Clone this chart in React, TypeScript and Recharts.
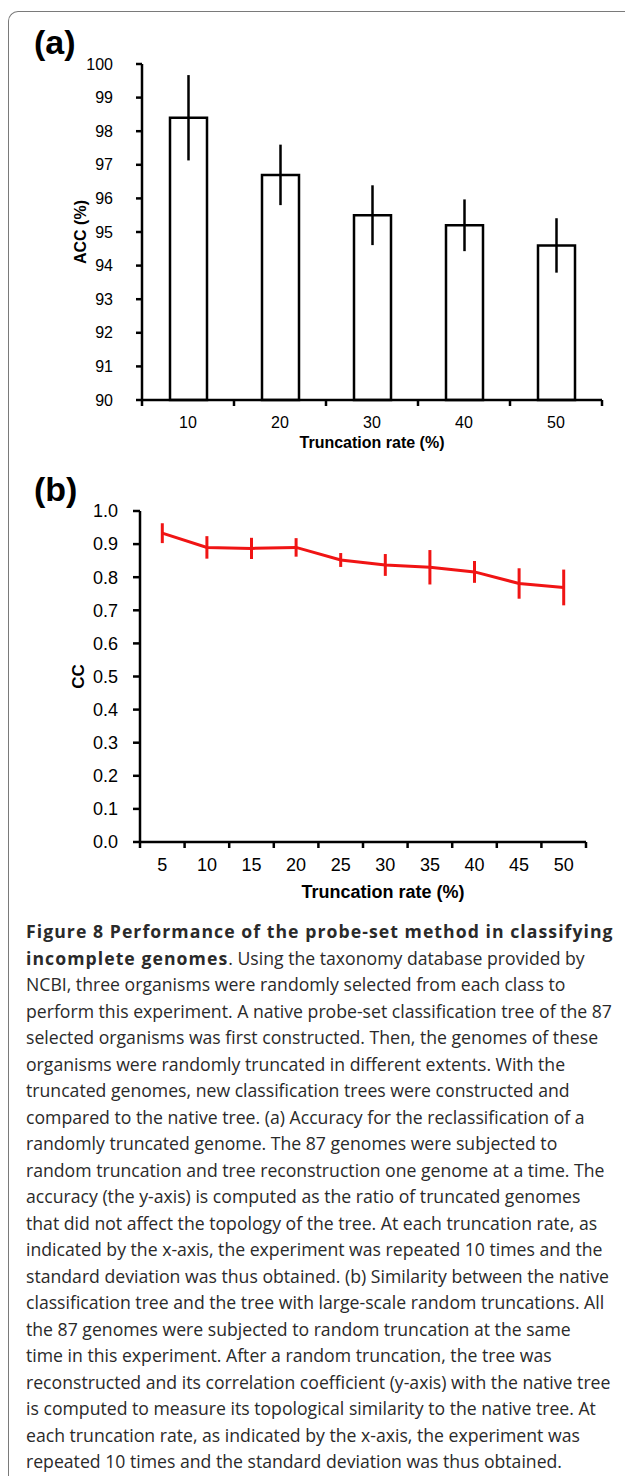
import React from "react";
import {
  BarChart,
  Bar,
  LineChart,
  Line,
  XAxis,
  YAxis,
  ErrorBar,
} from "recharts";

// (a) accuracy of reclassification per truncation rate
const accRates = ["10", "20", "30", "40", "50"];
const accValues = [98.4, 96.7, 95.5, 95.2, 94.6];
const accErrors = [1.27, 0.9, 0.89, 0.77, 0.81];
const accTicks = [90, 91, 92, 93, 94, 95, 96, 97, 98, 99, 100];

// (b) correlation coefficient per truncation rate
const ccRates = ["5", "10", "15", "20", "25", "30", "35", "40", "45", "50"];
const ccValues = [0.933, 0.89, 0.887, 0.89, 0.852, 0.837, 0.83, 0.816, 0.781, 0.769];
const ccErrors = [0.03, 0.034, 0.032, 0.028, 0.021, 0.033, 0.052, 0.033, 0.046, 0.054];
const ccTicks = [0, 0.1, 0.2, 0.3, 0.4, 0.5, 0.6, 0.7, 0.8, 0.9, 1.0];

const accData = accRates.map((rate, i) => ({ rate, acc: accValues[i], err: accErrors[i] }));
const ccData = ccRates.map((rate, i) => ({ rate, cc: ccValues[i], sd: ccErrors[i] }));

const boldStyle: React.CSSProperties = { fontWeight: 700, letterSpacing: 1.05 };

const captionLines: React.ReactNode[] = [
  <span style={boldStyle}>Figure 8 Performance of the probe-set method in classifying</span>,
  <>
    <span style={boldStyle}>incomplete genomes</span>. Using the taxonomy database provided by
  </>,
  "NCBI, three organisms were randomly selected from each class to",
  "perform this experiment. A native probe-set classification tree of the 87",
  "selected organisms was first constructed. Then, the genomes of these",
  "organisms were randomly truncated in different extents. With the",
  "truncated genomes, new classification trees were constructed and",
  "compared to the native tree. (a) Accuracy for the reclassification of a",
  "randomly truncated genome. The 87 genomes were subjected to",
  "random truncation and tree reconstruction one genome at a time. The",
  "accuracy (the y-axis) is computed as the ratio of truncated genomes",
  "that did not affect the topology of the tree. At each truncation rate, as",
  "indicated by the x-axis, the experiment was repeated 10 times and the",
  "standard deviation was thus obtained. (b) Similarity between the native",
  "classification tree and the tree with large-scale random truncations. All",
  "the 87 genomes were subjected to random truncation at the same",
  "time in this experiment. After a random truncation, the tree was",
  "reconstructed and its correlation coefficient (y-axis) with the native tree",
  "is computed to measure its topological similarity to the native tree. At",
  "each truncation rate, as indicated by the x-axis, the experiment was",
  "repeated 10 times and the standard deviation was thus obtained.",
];

const FONT = "'Liberation Sans', Arial, sans-serif";
const RED = "#f01414";

// tick marks sit on the category boundaries, labels in the middle
const makeXTick = (n: number, halfBand: number, fontSize: number, labelDy: number) =>
  (props: any) => {
    const { x, y, payload, index } = props;
    return (
      <g>
        <line x1={x - halfBand} x2={x - halfBand} y1={y} y2={y + 6} stroke="#000" strokeWidth={2.5} />
        {index === n - 1 && (
          <line x1={x + halfBand} x2={x + halfBand} y1={y} y2={y + 6} stroke="#000" strokeWidth={2.5} />
        )}
        <text
          x={x}
          y={y + labelDy}
          textAnchor="middle"
          dominantBaseline="central"
          fontSize={fontSize}
          fontFamily={FONT}
          fill="#000"
        >
          {payload.value}
        </text>
      </g>
    );
  };

const yTitle = (text: string, dx: number, size: number) => (props: any) => {
  const { viewBox } = props;
  const cx = viewBox.x + dx;
  const cy = viewBox.y + viewBox.height / 2;
  return (
    <text
      x={cx}
      y={cy}
      transform={`rotate(-90 ${cx} ${cy})`}
      textAnchor="middle"
      dominantBaseline="central"
      fontSize={size}
      fontWeight="bold"
      fontFamily={FONT}
      fill="#000"
    >
      {text}
    </text>
  );
};

const xTitle = (text: string, dx: number, dy: number, size: number) => (props: any) => {
  const { viewBox } = props;
  return (
    <text
      x={viewBox.x + viewBox.width / 2 + dx}
      y={viewBox.y + dy}
      textAnchor="middle"
      dominantBaseline="central"
      fontSize={size}
      fontWeight="bold"
      fontFamily={FONT}
      fill="#000"
    >
      {text}
    </text>
  );
};

function AccChart() {
  return (
    <BarChart
      width={625}
      height={460}
      data={accData}
      margin={{ top: 64, right: 23, left: 0, bottom: 0 }}
    >
      <XAxis
        dataKey="rate"
        height={60}
        tickSize={0}
        tickMargin={0}
        tickLine={false}
        interval={0}
        axisLine={{ stroke: "#000", strokeWidth: 2.5 }}
        tick={makeXTick(accRates.length, 46, 16, 22)}
        label={{ content: xTitle("Truncation rate (%)", 0, 42, 16) }}
      />
      <YAxis
        width={142}
        type="number"
        domain={[90, 100]}
        ticks={accTicks}
        interval={0}
        tickSize={6}
        tickMargin={23}
        tickLine={{ stroke: "#000", strokeWidth: 2.5 }}
        axisLine={{ stroke: "#000", strokeWidth: 2.5 }}
        tick={{ fill: "#000", fontSize: 16, fontFamily: FONT }}
        label={{ content: yTitle("ACC (%)", 80, 16) }}
      />
      <Bar
        dataKey="acc"
        fill="#fff"
        stroke="#000"
        strokeWidth={2.5}
        barSize={37}
        isAnimationActive={false}
      >
        <ErrorBar dataKey="err" width={0} stroke="#000" strokeWidth={2.5} />
      </Bar>
    </BarChart>
  );
}

function CcChart() {
  const halfBand = 446 / ccRates.length / 2;
  return (
    <LineChart
      width={625}
      height={450}
      data={ccData}
      margin={{ top: 51, right: 39, left: 0, bottom: 0 }}
    >
      <XAxis
        dataKey="rate"
        height={68}
        tickSize={0}
        tickMargin={0}
        tickLine={false}
        interval={0}
        padding={{ left: halfBand, right: halfBand }}
        axisLine={{ stroke: "#000", strokeWidth: 2.5 }}
        tick={makeXTick(ccRates.length, halfBand, 18, 23)}
        label={{ content: xTitle("Truncation rate (%)", 20, 50, 18) }}
      />
      <YAxis
        width={140}
        type="number"
        domain={[0, 1]}
        ticks={ccTicks}
        interval={0}
        tickSize={7}
        tickMargin={15}
        tickFormatter={(v: number) => v.toFixed(1)}
        tickLine={{ stroke: "#000", strokeWidth: 2.5 }}
        axisLine={{ stroke: "#000", strokeWidth: 2.5 }}
        tick={{ fill: "#000", fontSize: 18, fontFamily: FONT }}
        label={{ content: yTitle("CC", 78, 17) }}
      />
      <Line
        type="linear"
        dataKey="cc"
        stroke={RED}
        strokeWidth={3}
        dot={false}
        isAnimationActive={false}
      >
        <ErrorBar dataKey="sd" width={0} stroke={RED} strokeWidth={3} direction="y" />
      </Line>
    </LineChart>
  );
}

export default function App() {
  return (
    <div
      style={{
        position: "absolute",
        left: 0,
        top: 0,
        width: 625,
        height: 1476,
        overflow: "hidden",
        background: "#fff",
      }}
    >
      <div
        style={{
          position: "absolute",
          left: 8,
          top: 11,
          width: 800,
          height: 1600,
          borderTop: "1.5px solid #7a7a7a",
          borderLeft: "1.5px solid #7a7a7a",
          borderTopLeftRadius: 10,
        }}
      />
      <div style={{ position: "absolute", left: 0, top: 0 }}>
        <AccChart />
      </div>
      <div style={{ position: "absolute", left: 0, top: 460 }}>
        <CcChart />
      </div>
      <div
        style={{
          position: "absolute",
          left: 34,
          top: 22,
          fontFamily: FONT,
          fontWeight: "bold",
          fontSize: 34,
          lineHeight: "40px",
        }}
      >
        (a)
      </div>
      <div
        style={{
          position: "absolute",
          left: 34,
          top: 469,
          fontFamily: FONT,
          fontWeight: "bold",
          fontSize: 34,
          lineHeight: "40px",
        }}
      >
        (b)
      </div>
      <div
        style={{
          position: "absolute",
          left: 26,
          top: 918,
          fontFamily: "'Open Sans', 'Noto Sans', sans-serif",
          fontSize: 17.65,
          lineHeight: "26.5px",
          color: "#2a2a2a",
        }}
      >
        {captionLines.map((line, i) => (
          <div key={i} style={{ whiteSpace: "nowrap" }}>
            {line}
          </div>
        ))}
      </div>
    </div>
  );
}
